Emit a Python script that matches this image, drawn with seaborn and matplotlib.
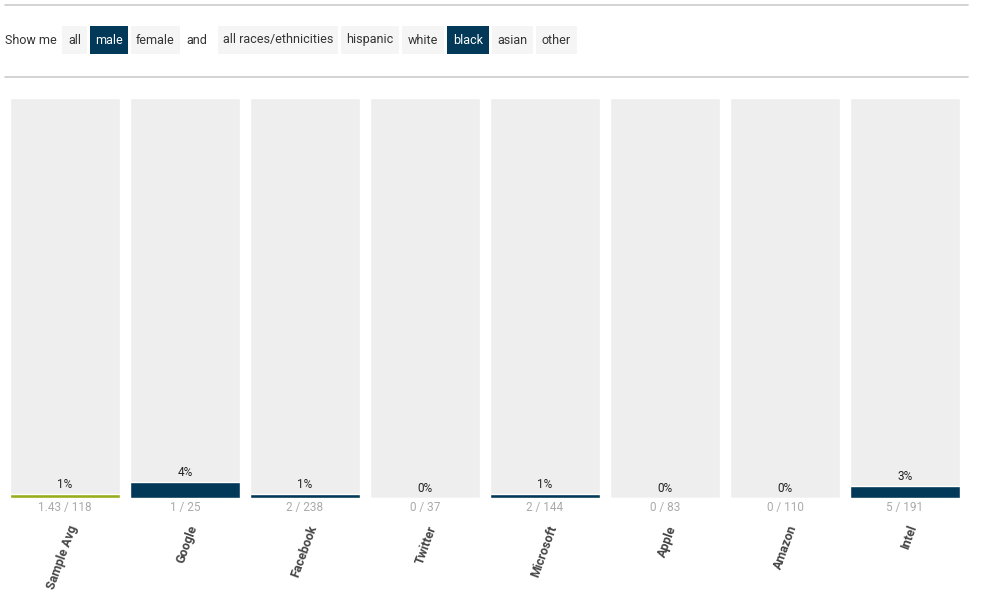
import numpy as np
import pandas as pd
import matplotlib
matplotlib.use("Agg")
import matplotlib.pyplot as plt
import seaborn as sns
from matplotlib.patches import Rectangle
from matplotlib.lines import Line2D

sns.set_theme(style="white")
plt.rcParams["font.family"] = ["Roboto", "DejaVu Sans"]

# data
companies = ["Sample Avg", "Google", "Facebook", "Twitter", "Microsoft", "Apple", "Amazon", "Intel"]
hires = [1.43, 1, 2, 0, 2, 0, 0, 5]
totals = [118, 25, 238, 37, 144, 83, 110, 191]
count_labels = ["1.43 / 118", "1 / 25", "2 / 238", "0 / 37", "2 / 144", "0 / 83", "0 / 110", "5 / 191"]

# filter buttons on top
button_labels = ["all", "male", "female", "all races/ethnicities", "hispanic", "white", "black", "asian", "other"]
button_selected = [False, True, False, False, False, False, True, False, False]

df = pd.DataFrame({"company": companies, "hires": hires, "total": totals})
# bars are drawn at the rounded percentage, same as the label
df["pct"] = (df["hires"] / df["total"] * 100).round()
df["full"] = 100.0
df["kind"] = ["avg"] + ["co"] * (len(df) - 1)

NAVY = "#023858"
GREEN = "#98ad1c"
BG = "#eeeeee"

W, H = 981, 613
fig = plt.figure(figsize=(W / 100, H / 100), dpi=100)


def fx(px):
    return px / W


def fy(py):
    return 1 - py / H


# top rules
for yy in (5, 77):
    fig.add_artist(Line2D([fx(5), fx(968)], [fy(yy), fy(yy)], color="#cccccc", lw=1.2))

# button row
fig.text(fx(5), fy(40), "Show me", fontsize=9, color="#333333", va="center", ha="left")
fig.text(fx(186), fy(40), "and", fontsize=9, color="#333333", va="center", ha="left")
box_left = [62, 90, 131, 218, 341, 402, 447, 492, 536]
box_right = [87, 128, 180, 338, 399, 444, 489, 533, 577]
for lab, sel, l, r in zip(button_labels, button_selected, box_left, box_right):
    fig.add_artist(Rectangle((fx(l), fy(54)), fx(r - l), 28 / H,
                             facecolor=NAVY if sel else "#f5f5f5", edgecolor="none"))
    fig.text(fx((l + r) / 2), fy(40), lab, fontsize=9, va="center", ha="center",
             color="white" if sel else "#333333")

# chart axes: 10..960 px wide, 98..498 px tall
ax = fig.add_axes([fx(10), fy(498), fx(950), 400 / H])
width = 110 / 120

sns.barplot(data=df, x="company", y="full", color=BG, width=width, ax=ax,
            saturation=1, errorbar=None)
sns.barplot(data=df, x="company", y="pct", hue="kind",
            palette={"avg": GREEN, "co": NAVY}, width=width, ax=ax,
            saturation=1, errorbar=None, legend=False, dodge=False)

ax.set_xlim(-width / 2, len(df) - 1 + width / 2)
ax.set_ylim(0, 100)
ax.set_xlabel("")
ax.set_ylabel("")
ax.set_xticks([])
ax.set_yticks([])
for s in ax.spines.values():
    s.set_visible(False)

for i, row in df.iterrows():
    ax.annotate(f"{row['pct']:.0f}%", (i, row["pct"]), xytext=(0, 2.5),
                textcoords="offset points", ha="center", va="bottom",
                fontsize=8.5, color="#222222")
    ax.annotate(count_labels[i], (i, 0), xytext=(0, -7),
                textcoords="offset points", ha="center", va="center",
                fontsize=8.5, color="#aaaaaa")
    ax.annotate(row["company"], (i, 0), xytext=(6, -20),
                textcoords="offset points", ha="right", va="center",
                rotation=70, rotation_mode="anchor",
                fontsize=9, fontweight="bold", color="#444444")

fig.savefig("out.png", dpi=100, facecolor="white")
